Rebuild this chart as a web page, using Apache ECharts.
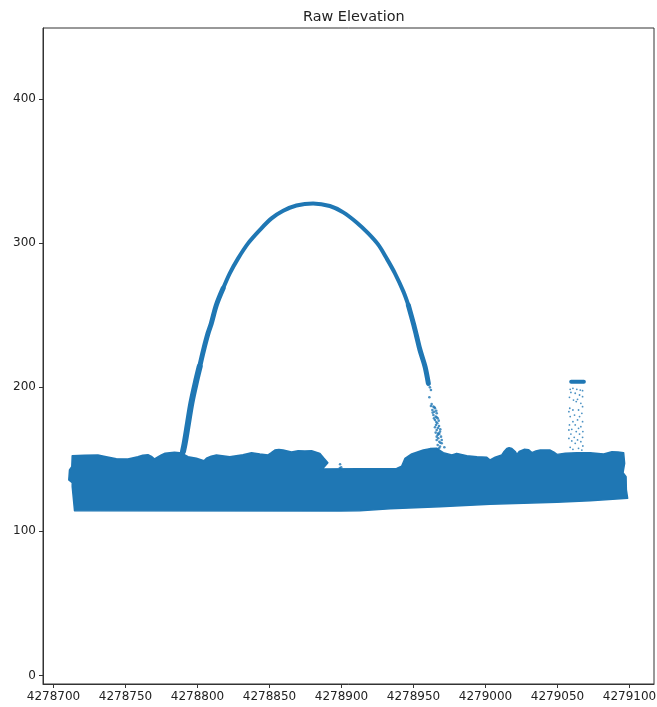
<!DOCTYPE html>
<html>
<head>
<meta charset="utf-8">
<style>html,body{margin:0;padding:0;background:#fff}#c{width:657px;height:707px}</style>
<script src="https://cdn.jsdelivr.net/npm/echarts@6/dist/echarts.min.js"></script>
</head>
<body>
<div id="c"></div>
<script>
const titleText = 'Raw Elevation';
const xTicks = [4278700,4278750,4278800,4278850,4278900,4278950,4279000,4279050,4279100];
const yTicks = [0,100,200,300,400];
const xBase = 4278700;

// ground band outline (x offset from xBase, elevation)
const groundX = [13,21.6,30.8,36.6,43.6,51.7,58.6,62,65.6,68,70.2,72.5,74.9,77.5,80.7,84,87.6,90.5,93.4,99.2,104.5,106.2,109.5,113.1,122.4,131.6,137.5,143.3,149,151.3,153.7,156.5,159.4,165.3,169.9,174.5,179.2,185,187.8,190.5,187.8,185.5,238.3,241.8,244.1,248.7,256.8,261.5,266.1,270.7,276.6,280,287,294,300.9,303.2,306.7,311.3,312.6,314.8,316.4,318.3,320.6,321.8,323.4,326.8,330,332.2,335,338,344.9,347.5,349.6,355.4,363.5,372.7,382,387.8,392,395.9,396.6,395.5,397.6,397.8,398.7,372.7,349.6,303.2,268.4,233.7,212.8,198.9,14.6,13.9,13,13,10.6,11.1,12.7];
const groundY = [152.5,152.8,153,151.8,150.4,150.2,151.8,152.8,153.2,152,150.2,151.6,153,154.2,154.6,154.9,154.6,153.4,151.8,150.7,149,150.7,152.2,153,151.8,153.2,154.6,153.7,153,154.6,156.4,156.8,156.4,155,155.9,155.7,155.9,154.1,150.7,147.6,144.4,143.2,143.6,145.3,150.7,153.7,156.4,157.4,157.6,154.6,153,154.1,152.5,151.8,151.4,149.5,151.4,153,155,157.5,158,157.5,155.4,153.4,155.4,156.9,156.6,154.6,155.8,156.4,156.4,155,153.4,154.1,154.6,154.6,153.7,155.2,155,154.6,147.2,140.7,137.9,128.7,122.9,121.3,120.2,118.8,117.1,115.7,114.3,114.1,114.3,121.7,131,133.7,135.6,142.6,144.8];

// arch centre line
const archLegLeftX = [89.9,91.1,93.4,95.7,98.7,101.5];
const archLegLeftY = [155.3,161.1,175,188.8,202.7,214.3];
const archShoulderLeftX = [101.5,104.2,107.3,109.6,113.1,117.8];
const archShoulderLeftY = [214.3,225.8,237.4,244.3,257,268.6];
const archCrownX = [117.8,122.4,128.2,135.1,143.2,151.4,159.5,168.7,180.3,191.9,201.2,210.5,218.6,225.5,231.3,237.1,243,246.4];
const archCrownY = [268.6,279,289.4,299.8,309,317.1,322.4,326.1,327.5,325.7,321.3,314.3,306.7,298.9,289.4,279,266.3,257];
const archLegRightX = [246.4,249.9,252,254.5,258,260.3];
const archLegRightY = [257,244.3,236,225.8,214.3,202.7];

// sparse returns on the lower right leg of the arch
const legX = [261,261.4,262.1,260.3,262.6,263.8,263.1,264.9,263.8,266.1,264.9,266.8,265.6,267.7,266.1,268.4,266.8,269.1,266.1,267.9,269.6,266.8,268.4,271.4,265.4,264.5,266.5,267.2,268.6,267.2,262.1,264.5,265.8,263.3,266.1,264.2,267.5,265.8,264.9,267,268.6,265.4,267.9,266.1,269.6,267.7,266.5];
const legY = [193,199.9,198.1,201.5,188.4,186.5,184.2,185.4,180.7,181.9,177.3,178.4,173.8,173.1,170.3,169.2,166.9,165.7,163.4,162.2,163.4,159.9,158.8,158.3,179.6,183,175,168,161.5,164.6,187,186.1,183.7,182.4,179.1,178.4,176.8,175.9,172.2,171.7,170.8,168.5,167.6,165.7,161.1,157.6,157.1];

// tower on the right: the roof and its sparse returns
const towerRoofX = [359.5,368.3];
const towerRoofY = [203.8,203.8];
const towerX = [358.8,360.7,363.4,365.8,367.4,359.3,362.3,365.3,367.4,358.3,361.1,363.9,366.2,367.4,358.5,360.7,363,364.6,366.9,357.9,361.8,365.3,358.8,363.9,367.4,360.7,358.3,362.3,366.2,364.6,359.9,367.6,357.9,363,359.3,365.3,361.6,367.4,357.9,363.9,359.9,366.2,362.3,367.6,358.8,364.6,360.7,366.9];
const towerY = [198.5,199.2,198.5,198,197.6,196.4,195.8,194.6,193.4,193,191.1,191.6,188.8,186.5,185.4,184.2,190,184.2,181.9,183,180.7,179.6,179.6,177.3,176.1,176.1,173.8,173.8,172.6,171.5,170.8,169.2,170.3,169.2,167.5,167.5,165.2,165.2,164.5,163.4,162.7,162.2,161.1,159.2,158.3,157.6,156.9,156.4];

// small tree-like spike left of the flat section
const spikeX = [199.0,198.8,199.8,199.3];
const spikeY = [146.5,144,144.5,143];

const color = '#1f77b4';
const pairs = (xs, ys) => xs.map((x, i) => [xBase + x, ys[i]]);
const fmt = v => String(v);
const lineSeries = (xs, ys, width, smooth) => ({
  type: 'line', data: pairs(xs, ys), showSymbol: false, smooth,
  lineStyle: { color, width, cap: 'round', join: 'round' }, silent: true, z: 3
});

const chart = echarts.init(document.getElementById('c'), null, { renderer: 'canvas' });
chart.setOption({
  animation: false,
  backgroundColor: '#fff',
  title: {
    text: titleText, left: 298, top: 5,
    textStyle: { fontFamily: 'DejaVu Sans', fontSize: 14.4, fontWeight: 'normal', color: '#222' }
  },
  grid: { left: 43, top: 28, width: 611, height: 656, outerBoundsMode: 'none', show: true, borderColor: '#333', borderWidth: 1, backgroundColor: 'transparent' },
  xAxis: {
    type: 'value', min: 4278692.7, max: 4279117, scale: true,
    splitLine: { show: false },
    axisLine: { show: true, onZero: false, lineStyle: { color: '#333' } },
    axisTick: { show: true, length: 4, customValues: xTicks, lineStyle: { color: '#333' } },
    axisLabel: { customValues: xTicks, formatter: fmt, margin: 7, hideOverlap: false, fontFamily: 'DejaVu Sans', fontSize: 12, color: '#222' }
  },
  yAxis: {
    type: 'value', min: -5.9, max: 449.2,
    splitLine: { show: false },
    axisLine: { show: true, onZero: false, lineStyle: { color: '#333' } },
    axisTick: { show: true, length: 4, customValues: yTicks, lineStyle: { color: '#333' } },
    axisLabel: { customValues: yTicks, formatter: fmt, margin: 7, fontFamily: 'DejaVu Sans', fontSize: 12, color: '#222' }
  },
  series: [
    {
      type: 'custom', coordinateSystem: 'cartesian2d', silent: true, z: 2,
      data: pairs(groundX, groundY),
      encode: { x: 0, y: 1 },
      renderItem: (params, api) => {
        if (params.dataIndex !== 0) return null;
        const pts = pairs(groundX, groundY).map(p => api.coord(p));
        return { type: 'polygon', shape: { points: pts }, style: { fill: color, stroke: color, lineWidth: 1.5, lineJoin: 'round' } };
      }
    },
    lineSeries(archLegLeftX, archLegLeftY, 6, 0.33),
    lineSeries(archShoulderLeftX, archShoulderLeftY, 5, 0.33),
    lineSeries(archCrownX, archCrownY, 4, 0.33),
    lineSeries(archLegRightX, archLegRightY, 5, 0.33),
    lineSeries(towerRoofX, towerRoofY, 4, false),
    { type: 'scatter', data: pairs(legX, legY), symbolSize: 2.6, itemStyle: { color }, silent: true, z: 3 },
    { type: 'scatter', data: pairs(towerX, towerY), symbolSize: 1.8, itemStyle: { color, opacity: 0.8 }, silent: true, z: 3 },
    { type: 'scatter', data: pairs(spikeX, spikeY), symbolSize: 2.5, itemStyle: { color }, silent: true, z: 3 }
  ]
});
</script>
</body>
</html>
